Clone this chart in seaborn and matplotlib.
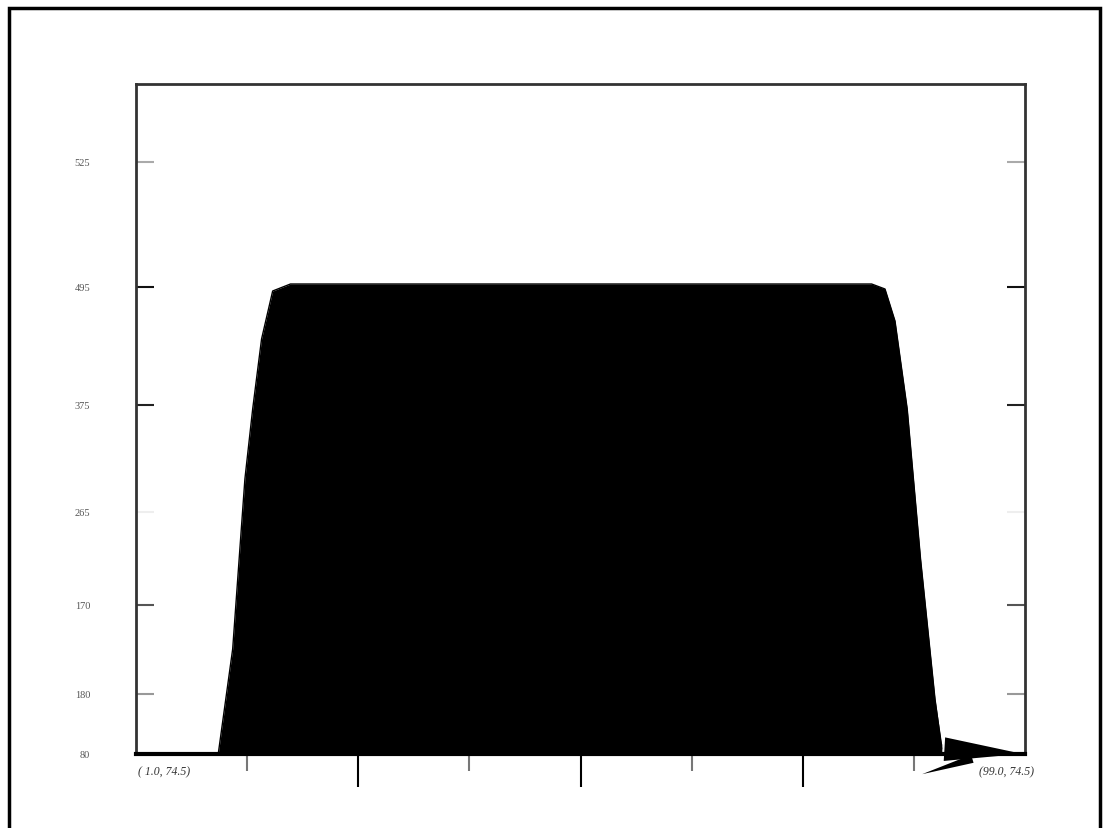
import matplotlib
matplotlib.use("Agg")
import matplotlib.pyplot as plt
import matplotlib.patches as mpatches
import seaborn as sns
import pandas as pd

# ---- data ----
x_vals = [0.0, 0.74, 0.87, 0.98, 1.05, 1.13, 1.23, 1.39, 6.62, 6.74, 6.83, 6.94, 7.06, 7.19, 7.25, 7.25]
y_vals = [0, 0, 105, 275, 345, 415, 463, 470, 470, 465, 433, 345, 195, 55, 10, 0]
ytick_pos = [0, 60, 149, 242, 349, 467, 592]
ytick_labels = ["80", "180", "170", "265", "375", "495", "525"]
ytick_colors = ["#333333", "#999999", "#555555", "#eeeeee", "#222222", "#111111", "#aaaaaa"]
xmajor = [2, 4, 6]
xminor = [1, 3, 5, 7]
left_label = "( 1.0, 74.5)"
right_label = "(99.0, 74.5)"

sns.set_style("white")
plt.rcParams['font.family'] = ['Liberation Serif', 'DejaVu Serif']

fig = plt.figure(figsize=(11.03, 8.29), dpi=100)
ax = fig.add_axes([136/1103, 74/829, 889/1103, 670/829])

df = pd.DataFrame({"x": x_vals, "y": y_vals})
ax.fill_between(df["x"], df["y"], 0, color="black", lw=0)
sns.lineplot(data=df, x="x", y="y", ax=ax, color="black", lw=1, sort=False)

ax.set_xlim(0, 8)
ax.set_ylim(0, 670)
ax.set_xlabel("")
ax.set_ylabel("")

# arrow wedge at bottom right
ax.annotate("", xy=(8.0, 0), xytext=(7.25, 5),
            arrowprops=dict(arrowstyle="wedge,tail_width=1.7,shrink_factor=0.5",
                            fc="black", ec="black", lw=0))
ax.annotate("", xy=(7.05, -21), xytext=(7.55, -4), annotation_clip=False,
            arrowprops=dict(arrowstyle="wedge,tail_width=0.6,shrink_factor=0.5",
                            fc="black", ec="black", lw=0))

for s in ax.spines.values():
    s.set_color("#333333")
    s.set_linewidth(2)
ax.spines["bottom"].set_color("black")
ax.spines["bottom"].set_linewidth(3)

# y ticks both sides, drawn inward
ax.set_yticks(ytick_pos)
ax.set_yticklabels(ytick_labels, fontsize=7.5, color="#555555")
ax.tick_params(axis="y", which="major", direction="in", length=13, width=1.5,
               left=True, right=True, pad=33)
for t, c in zip(ax.yaxis.get_major_ticks(), ytick_colors):
    t.tick1line.set_markeredgecolor(c)
    t.tick2line.set_markeredgecolor(c)

ax.set_xticks(xmajor)
ax.set_xticks(xminor, minor=True)
ax.set_xticklabels([])
ax.tick_params(axis="x", which="major", direction="out", length=24, width=1.5, color="black", bottom=True)
ax.tick_params(axis="x", which="minor", direction="out", length=12, width=1.5, color="#777777", bottom=True)

ax.text(0.02, -17, left_label, fontsize=8.5, style="italic", color="#333333", va="center", ha="left")
ax.text(8.08, -17, right_label, fontsize=8.5, style="italic", color="#333333", va="center", ha="right")

# figure frame
frame = mpatches.Rectangle((9/1103, -0.02), (1100-9)/1103, (829-9)/829 + 0.02,
                           transform=fig.transFigure, fill=False, ec="black", lw=2.5)
fig.patches.append(frame)

fig.savefig("out.png", dpi=100)
